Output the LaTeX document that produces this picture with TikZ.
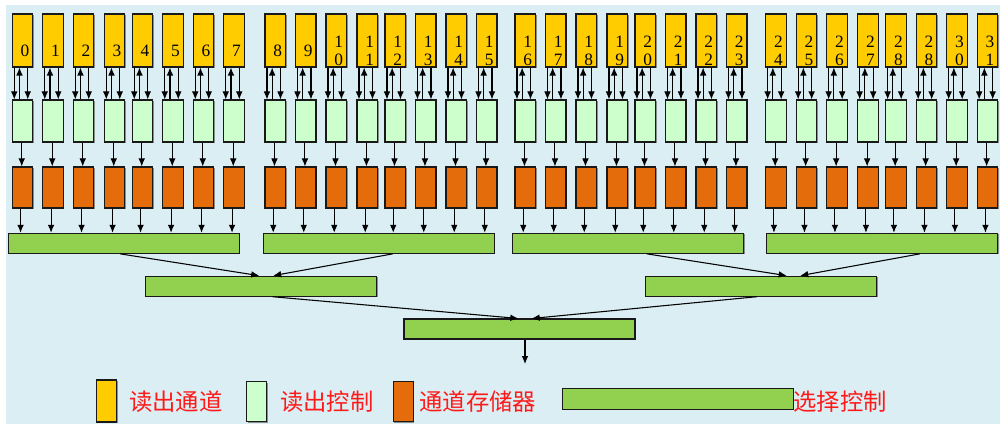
\documentclass[tikz,border=0pt]{standalone}
\usepackage{fontspec}
\newfontfamily\cjk{Noto Sans CJK SC}
\newfontfamily\numf{Liberation Serif}
\usetikzlibrary{arrows.meta,calc,shadows}
\definecolor{bgc}{HTML}{DAEEF3}
\definecolor{ych}{HTML}{FFCC00}
\definecolor{lgc}{HTML}{CCFFCC}
\definecolor{orc}{HTML}{E46C0A}
\definecolor{grc}{HTML}{92D050}
\definecolor{txr}{HTML}{FF1A1A}
\begin{document}
\begin{tikzpicture}[x=0.75pt,y=-0.75pt,
  boxbase/.style={draw=black!90, line width=0.8pt, inner sep=0pt,
    drop shadow={shadow xshift=0.8pt, shadow yshift=-0.8pt, fill=black!60, opacity=0.7}},
  ychan/.style={boxbase, fill=ych, minimum width=15.375pt, minimum height=39.75pt},
  rdctl/.style={boxbase, fill=lgc, minimum width=15.375pt, minimum height=31.5pt},
  chmem/.style={boxbase, fill=orc, minimum width=15.375pt, minimum height=30.75pt},
  selbar/.style={boxbase, fill=grc, minimum width=173.25pt, minimum height=15pt},
  numlbl/.style={font=\numf\fontsize{13pt}{13.5pt}\selectfont, align=center, inner sep=0pt},
  legtxt/.style={font=\cjk\fontsize{17.5pt}{20pt}\selectfont, text=txr, anchor=west, inner sep=0pt},
  arr/.style={draw=black, line width=0.8pt, -{Latex[length=6pt,width=5pt]}}
]
\useasboundingbox (0,0) rectangle (1000,424);
\fill[bgc] (6,5) rectangle (1000,424);

% selection bars
\node[selbar] (b1) at (123.8,243.3) {};
\node[selbar] (b2) at (378.8,243.3) {};
\node[selbar] (b3) at (628.2,243.3) {};
\node[selbar] (b4) at (882.2,243.3) {};
\node[selbar] (s1) at (261.2,286.2) {};
\node[selbar] (s2) at (761.2,286.2) {};
\node[selbar] (t)  at (519.5,329) {};
\coordinate (out) at (525,364);

\foreach \i/\x/\g/\t in {
  0/12.3/1/0, 1/42.8/1/1, 2/73.3/1/2, 3/104.3/1/3, 4/132.3/1/4, 5/162.8/1/5, 6/193.3/1/6, 7/223.8/1/7,
  8/265/2/8, 9/295.5/2/9, 10/326/2/{1\\0}, 11/357/2/{1\\1}, 12/385/2/{1\\2}, 13/415.5/2/{1\\3}, 14/446/2/{1\\4}, 15/476.5/2/{1\\5},
  16/515/3/{1\\6}, 17/545.5/3/{1\\7}, 18/576/3/{1\\8}, 19/607/3/{1\\9}, 20/635/3/{2\\0}, 21/665.5/3/{2\\1}, 22/696/3/{2\\2}, 23/726.5/3/{2\\3},
  24/765.7/4/{2\\4}, 25/796.2/4/{2\\5}, 26/826.7/4/{2\\6}, 27/857.7/4/{2\\7}, 28/885.7/4/{2\\8}, 29/916.2/4/{2\\8}, 30/946.7/4/{3\\0}, 31/977.2/4/{3\\1}} {
  \node[ychan] (y\i) at (\x+10.25,40.5) {};
  \node[numlbl] (n\i) at (\x+12.75,51) {\t};
  \node[rdctl] (c\i) at (\x+10.25,121) {};
  \node[chmem] (m\i) at (\x+10.25,187.5) {};
  \draw[arr] ($(y\i.south west)+(2.5,0)$) -- ($(c\i.north west)+(2.5,0)$);
  \draw[arr] ($(c\i.north west)+(7.7,0)$) -- ($(y\i.south west)+(7.7,0)$);
  \draw[arr] ($(y\i.south west)+(16,0)$) -- ($(c\i.north west)+(16,0)$);
  \draw[arr] ($(c\i.south)+(-0.8,0)$) -- ($(m\i.north)+(-0.8,0)$);
  \coordinate (p\i) at ($(m\i.south)+(-2,0)$);
  \draw[arr] (p\i) -- (p\i |- b\g.north);
}

\draw[arr] ($(b1.south)+(-3.8,0)$) -- ($(s1.north)+(-2,0)$);
\draw[arr] ($(b2.south)+(14,0)$) -- ($(s1.north)+(12,0)$);
\draw[arr] ($(b3.south)+(18.5,0)$) -- ($(s2.north)+(25.5,0)$);
\draw[arr] ($(b4.south)+(37.8,0)$) -- ($(s2.north)+(39,0)$);
\draw[arr] ($(s1.south)+(11.5,0)$) -- ($(t.north)+(-1.2,0)$);
\draw[arr] ($(s2.south)+(-4.5,0)$) -- ($(t.north)+(12.2,0)$);
\draw[arr] (t.south -| out) -- (out);

% legend
\node[boxbase, fill=ych, minimum width=15pt, minimum height=31.5pt] (ly) at (106.7,401) {};
\node[legtxt] (lty) at (129,401.7) {读出通道};
\node[boxbase, fill=lgc, minimum width=15pt, minimum height=30.2pt] (lc) at (256.7,401.8) {};
\node[legtxt] (ltc) at (280,401.7) {读出控制};
\node[boxbase, fill=orc, minimum width=15pt, minimum height=30.2pt] (lm) at (403.3,401.8) {};
\node[legtxt] (ltm) at (419.3,401.7) {通道存储器};
\node[boxbase, fill=grc, minimum width=172.95pt, minimum height=15.5pt] (lb) at (678,398.7) {};
\node[legtxt] (ltb) at (793.3,401.7) {选择控制};
\end{tikzpicture}
\end{document}
